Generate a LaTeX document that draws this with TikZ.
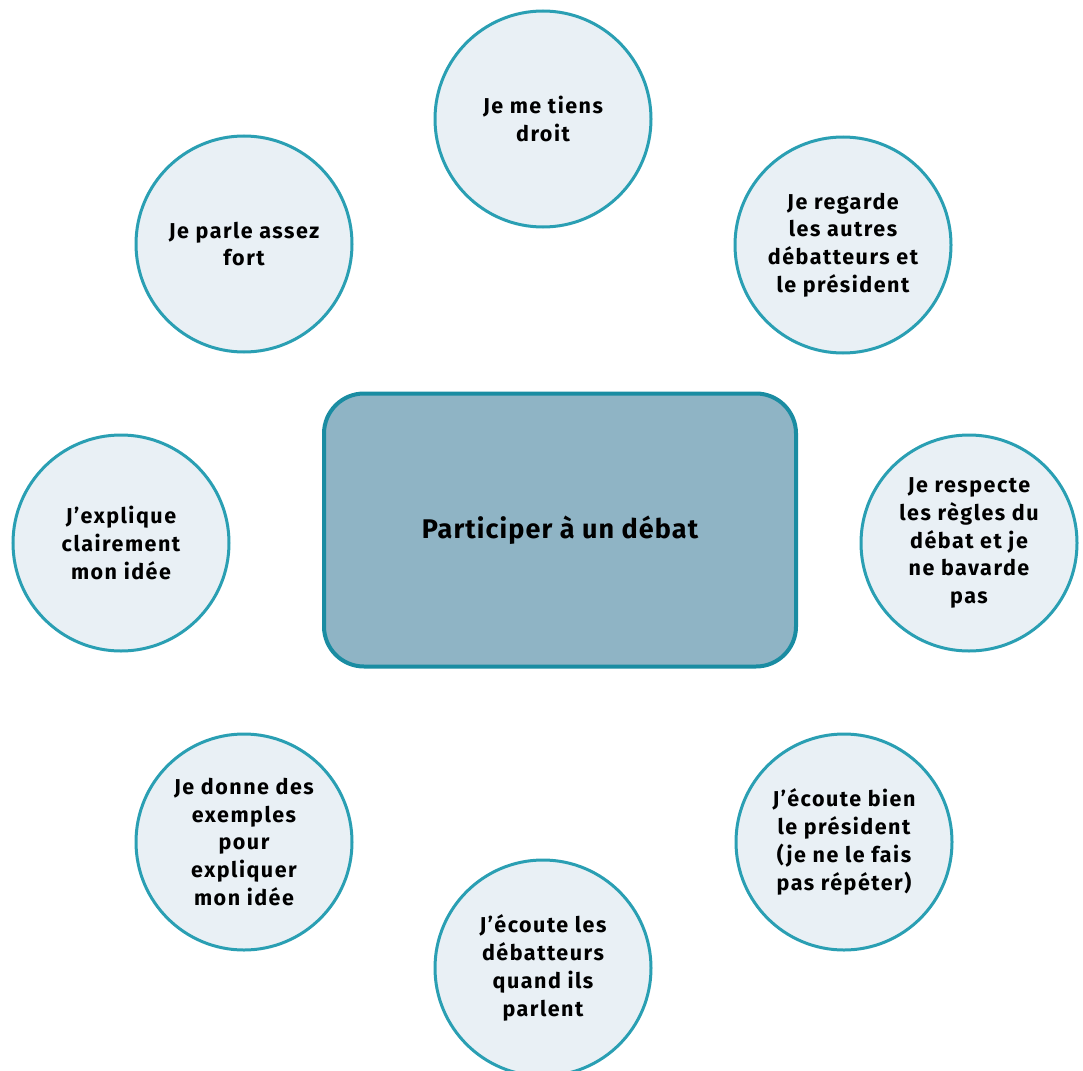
\documentclass[tikz,border=0pt]{standalone}
\usepackage{fontspec}
\setmainfont{Fira Sans}
\newfontfamily\bubblefont[LetterSpace=7]{Fira Sans}
\newfontfamily\titlefont[LetterSpace=4]{Fira Sans}
\definecolor{circfill}{HTML}{E9F0F5}
\definecolor{circline}{HTML}{2A9FB3}
\definecolor{boxfill}{HTML}{8FB4C5}
\definecolor{boxline}{HTML}{1A8CA2}
\begin{document}
\begin{tikzpicture}[x=1pt,y=-1pt,
  bubble/.style={circle, draw=circline, line width=3pt, fill=circfill, minimum size=216pt, inner sep=0pt,
    align=center, font=\bubblefont\fontsize{21.5}{27.8}\selectfont\bfseries},
  mainbox/.style={rectangle, rounded corners=40pt, draw=boxline, line width=4pt, fill=boxfill,
    minimum width=472pt, minimum height=273pt, font=\titlefont\fontsize{27}{30}\selectfont\bfseries}]
\useasboundingbox (0,0) rectangle (1083,1070);
\begin{scope}
\clip (0,0) rectangle (1083,1070);
\node[mainbox] (center) at (560,530) {Participer à un débat};
\node[bubble] (top) at (543,119) {Je me tiens\\droit};
\node[bubble] (tl) at (244,244) {Je parle assez\\fort};
\node[bubble] (tr) at (843,245) {Je regarde\\les autres\\débatteurs et\\le président};
\node[bubble] (left) at (121,543) {J’explique\\clairement\\mon idée};
\node[bubble] (right) at (969,543) {Je respecte\\les règles du\\débat et je\\ne bavarde\\pas};
\node[bubble] (bl) at (244,842) {Je donne des\\exemples\\pour\\expliquer\\mon idée};
\node[bubble] (br) at (844,842) {J’écoute bien\\le président\\(je ne le fais\\pas répéter)};
\node[bubble] (bottom) at (543,968) {J’écoute les\\débatteurs\\quand ils\\parlent};
\end{scope}
\end{tikzpicture}
\end{document}
